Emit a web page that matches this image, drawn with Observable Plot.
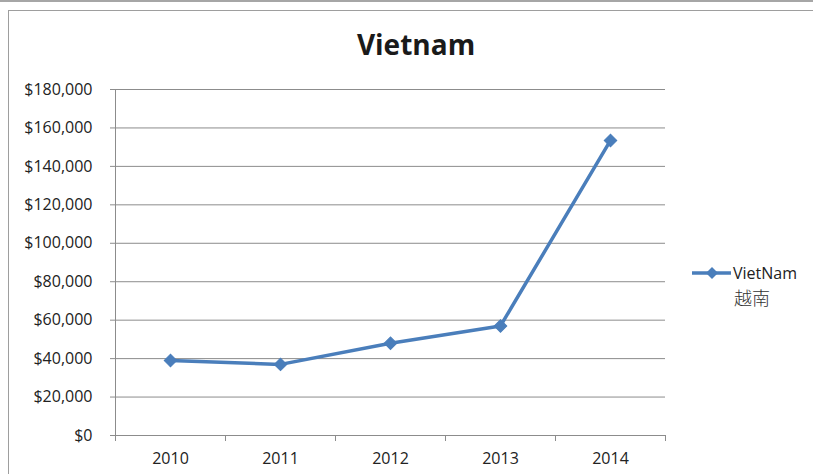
<!DOCTYPE html>
<html>
<head>
<meta charset="utf-8">
<script src="https://cdn.jsdelivr.net/npm/d3@7"></script>
<script src="https://cdn.jsdelivr.net/npm/@observablehq/plot@0.6"></script>
<style>
  html, body { margin: 0; padding: 0; background: #fff; }
  #wrap { position: relative; width: 813px; height: 474px; overflow: hidden; font-family: "Open Sans", sans-serif; }
  #topline { position: absolute; left: 0; top: 0; width: 813px; height: 0; border-top: 2px solid #a6a6a6; }
  #box { position: absolute; left: 8px; top: 10px; width: 820px; height: 480px; border: 1.5px solid #9e9e9e; box-sizing: border-box; }
  #title { position: absolute; left: 0; width: 832px; top: 25px; text-align: center; font-weight: bold; font-size: 28px; color: #1a1a1a; }
  #legend { position: absolute; left: 692px; top: 262px; font-size: 16px; color: #222; }
  #legend .row { display: flex; align-items: center; }
  #legend .cjk { font-family: "Noto Sans CJK SC", sans-serif; font-weight: 300; color: #333; margin-left: 42px; font-size: 18px; margin-top: 0px; }
  #chart { position: absolute; left: 0; top: 0; }
</style>
</head>
<body>
<div id="wrap">
  <div id="topline"></div>
  <div id="box"></div>
  <div id="chart"></div>
  <div id="title"></div>
  <div id="legend"></div>
</div>
<script>
const title = "Vietnam";
const seriesName = "VietNam";
const seriesNameCJK = "越南";
const years = [2010, 2011, 2012, 2013, 2014];
const values = [39000, 37000, 48000, 57000, 153500];
const yTicks = [0, 20000, 40000, 60000, 80000, 100000, 120000, 140000, 160000, 180000];

const color = "#4A7EBB";
const data = years.map((y, i) => ({year: y, value: values[i]}));
const boundaries = years.map(y => y - 0.5).concat([years[years.length - 1] + 0.5]);

const plot = Plot.plot({
  width: 813,
  height: 474,
  marginLeft: 115,
  marginRight: 148,
  marginTop: 89,
  marginBottom: 39,
  style: {fontFamily: "Open Sans, sans-serif", fontSize: "16px", color: "#222", background: "transparent"},
  x: {type: "linear", domain: [boundaries[0], boundaries[boundaries.length - 1]]},
  y: {domain: [0, 180000]},
  marks: [
    Plot.ruleY(yTicks, {stroke: "#8c8c8c", strokeWidth: 1, strokeOpacity: 1}),
    Plot.frame({anchor: "left", stroke: "#8c8c8c", strokeOpacity: 1}),
    Plot.axisY({ticks: yTicks, tickSize: 5, tickPadding: 18, tickFormat: d3.format("$,"), stroke: "#8c8c8c", label: null, fontSize: 16}),
    Plot.axisX({ticks: boundaries, tickSize: 6, tickFormat: () => "", stroke: "#8c8c8c", label: null}),
    Plot.axisX({ticks: years, tickSize: 0, tickPadding: 17, tickFormat: d => String(d), label: null, fontSize: 16}),
    Plot.line(data, {x: "year", y: "value", stroke: color, strokeWidth: 3.5}),
    Plot.dot(data, {x: "year", y: "value", symbol: "square", rotate: 45, r: 5, fill: color, stroke: color, strokeWidth: 1})
  ]
});
document.getElementById("chart").appendChild(plot);
document.getElementById("title").textContent = title;

const legend = document.getElementById("legend");
legend.innerHTML = `<div class="row"><svg width="41" height="16"><line x1="0" y1="8" x2="39" y2="8" stroke="${color}" stroke-width="3.5"/><path d="M20 2 L26 8 L20 14 L14 8 Z" fill="${color}"/></svg><span>${seriesName}</span></div><div class="cjk">${seriesNameCJK}</div>`;
</script>
</body>
</html>
